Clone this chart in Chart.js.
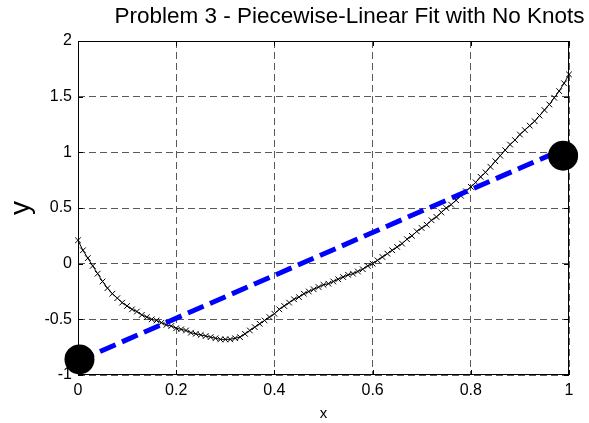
<!DOCTYPE html>
<html>
<head>
<meta charset="utf-8">
<script src="https://cdn.jsdelivr.net/npm/chart.js@4/dist/chart.umd.min.js"></script>
<style>
html,body{margin:0;padding:0;background:#fff;}
#wrap{width:589px;height:423px;}
</style>
</head>
<body>
<div id="wrap"><canvas id="c" width="589" height="423"></canvas></div>
<script>
const titleText = 'Problem 3 - Piecewise-Linear Fit with No Knots';
const xAxisLabel = 'x';
const yAxisLabel = 'y';
const xTickValues = [0, 0.2, 0.4, 0.6, 0.8, 1];
const xTickLabels = ['0', '0.2', '0.4', '0.6', '0.8', '1'];
const yTickValues = [-1, -0.5, 0, 0.5, 1, 1.5, 2];
const yTickLabels = ['-1', '-0.5', '0', '0.5', '1', '1.5', '2'];

const dataX = [0.00,0.01,0.02,0.03,0.04,0.05,0.06,0.07,0.08,0.09,
  0.10,0.11,0.12,0.13,0.14,0.15,0.16,0.17,0.18,0.19,
  0.20,0.21,0.22,0.23,0.24,0.25,0.26,0.27,0.28,0.29,
  0.30,0.31,0.32,0.33,0.34,0.35,0.36,0.37,0.38,0.39,
  0.40,0.41,0.42,0.43,0.44,0.45,0.46,0.47,0.48,0.49,
  0.50,0.51,0.52,0.53,0.54,0.55,0.56,0.57,0.58,0.59,
  0.60,0.61,0.62,0.63,0.64,0.65,0.66,0.67,0.68,0.69,
  0.70,0.71,0.72,0.73,0.74,0.75,0.76,0.77,0.78,0.79,
  0.80,0.81,0.82,0.83,0.84,0.85,0.86,0.87,0.88,0.89,
  0.90,0.91,0.92,0.93,0.94,0.95,0.96,0.97,0.98,0.99,1.00];
const dataY = [0.21,0.12,0.05,-0.02,-0.09,-0.16,-0.22,-0.27,-0.31,-0.35,
  -0.38,-0.41,-0.43,-0.46,-0.48,-0.50,-0.51,-0.53,-0.55,-0.56,
  -0.58,-0.59,-0.60,-0.62,-0.63,-0.64,-0.65,-0.66,-0.67,-0.68,
  -0.68,-0.68,-0.67,-0.66,-0.63,-0.60,-0.57,-0.54,-0.51,-0.48,
  -0.45,-0.41,-0.38,-0.35,-0.32,-0.30,-0.27,-0.25,-0.23,-0.21,
  -0.19,-0.18,-0.16,-0.14,-0.12,-0.10,-0.09,-0.07,-0.05,-0.02,
  0.00,0.03,0.06,0.09,0.12,0.15,0.18,0.22,0.25,0.29,
  0.32,0.35,0.39,0.42,0.46,0.50,0.53,0.57,0.61,0.65,
  0.69,0.73,0.78,0.82,0.87,0.92,0.97,1.02,1.07,1.11,
  1.16,1.20,1.24,1.28,1.33,1.38,1.43,1.49,1.55,1.62,1.70];

const fitX = [0, 1];
const fitY = [-0.875, 1.05];

const endpointX = [0.003, 0.988];
const endpointY = [-0.86, 0.97];

const FONT = "'Liberation Sans', Arial, sans-serif";

const titleShiftPlugin = {
  id: 'titleShift',
  afterLayout(chart) {
    const t = chart.titleBlock;
    if (t) { t.left += 65; t.right += 65; }
  }
};

const framePlugin = {
  id: 'frame',
  beforeDatasetsDraw(chart) {
    const {ctx, chartArea: a, scales} = chart;
    ctx.save();
    ctx.strokeStyle = '#000';
    ctx.lineWidth = 1;
    ctx.setLineDash([]);
    ctx.strokeRect(Math.round(a.left) + 0.5, Math.round(a.top) + 0.5,
      Math.round(a.right - a.left) - 1, Math.round(a.bottom - a.top) - 1);
    const tl = 5;
    ctx.beginPath();
    xTickValues.forEach(v => {
      const px = Math.round(scales.x.getPixelForValue(v)) + 0.5;
      ctx.moveTo(px, a.bottom); ctx.lineTo(px, a.bottom - tl);
      ctx.moveTo(px, a.top); ctx.lineTo(px, a.top + tl);
    });
    yTickValues.forEach(v => {
      const py = Math.round(scales.y.getPixelForValue(v)) + 0.5;
      ctx.moveTo(a.left, py); ctx.lineTo(a.left + tl, py);
      ctx.moveTo(a.right, py); ctx.lineTo(a.right - tl, py);
    });
    ctx.stroke();
    ctx.restore();
  }
};

new Chart(document.getElementById('c'), {
  type: 'scatter',
  data: {
    datasets: [
      {
        label: 'endpoints',
        data: endpointX.map((x, i) => ({x, y: endpointY[i]})),
        pointStyle: 'circle',
        pointRadius: 15,
        pointBackgroundColor: '#000',
        pointBorderColor: '#000',
        pointBorderWidth: 0,
        showLine: false,
        clip: false,
        order: 0
      },
      {
        label: 'fit',
        data: fitX.map((x, i) => ({x, y: fitY[i]})),
        showLine: true,
        borderColor: 'rgb(0,0,255)',
        borderWidth: 5,
        borderDash: [17, 7],
        borderCapStyle: 'butt',
        pointRadius: 0,
        order: 1
      },
      {
        label: 'data',
        data: dataX.map((x, i) => ({x, y: dataY[i]})),
        showLine: true,
        borderColor: '#000',
        borderWidth: 1,
        pointStyle: 'crossRot',
        pointRadius: 4,
        pointBorderColor: '#000',
        pointBorderWidth: 1,
        clip: false,
        order: 2
      }
    ]
  },
  options: {
    responsive: false,
    animation: false,
    layout: {padding: {left: 0, right: 20, top: 0, bottom: 0}},
    plugins: {
      legend: {display: false},
      tooltip: {enabled: false},
      title: {
        display: true,
        text: titleText,
        color: '#000',
        font: {family: FONT, size: 22.5, weight: 'normal', lineHeight: 1.2},
        padding: {top: 3, bottom: 11}
      }
    },
    scales: {
      x: {
        type: 'linear',
        min: 0, max: 1,
        afterFit(s) { s.height = 48; },
        afterBuildTicks(s) { s.ticks = xTickValues.map(v => ({value: v})); },
        ticks: {
          color: '#000',
          font: {family: FONT, size: 16},
          padding: 6,
          maxRotation: 0,
          callback: (v) => xTickLabels[xTickValues.indexOf(v)]
        },
        grid: {
          color: 'rgba(0,0,0,0.65)',
          lineWidth: 1,
          drawTicks: false
        },
        border: {display: false, dash: [7, 4]},
        title: {
          display: true,
          text: xAxisLabel,
          color: '#000',
          font: {family: FONT, size: 15},
          padding: {top: 3, bottom: 0}
        }
      },
      y: {
        type: 'linear',
        min: -1, max: 2,
        afterFit(s) { s.width = 78; },
        afterBuildTicks(s) { s.ticks = yTickValues.map(v => ({value: v})); },
        ticks: {
          color: '#000',
          font: {family: FONT, size: 16},
          padding: 6,
          callback: (v) => yTickLabels[yTickValues.indexOf(v)]
        },
        grid: {
          color: 'rgba(0,0,0,0.65)',
          lineWidth: 1,
          drawTicks: false
        },
        border: {display: false, dash: [7, 4]},
        title: {
          display: true,
          text: yAxisLabel,
          color: '#000',
          font: {family: FONT, size: 28},
          padding: {top: 4, bottom: 0}
        }
      }
    }
  },
  plugins: [titleShiftPlugin, framePlugin]
});
</script>
</body>
</html>
